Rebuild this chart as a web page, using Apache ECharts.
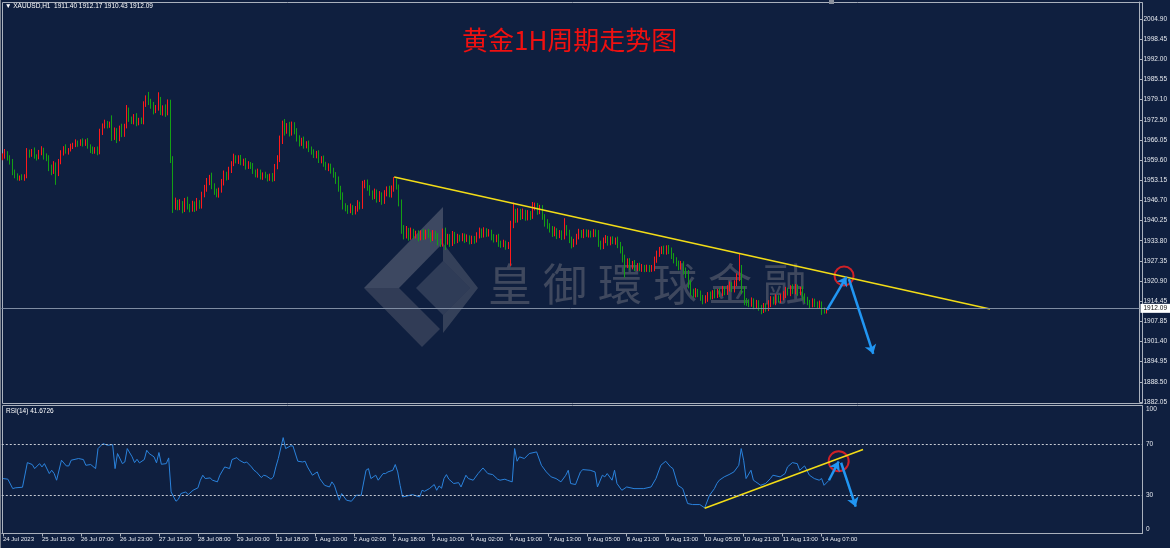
<!DOCTYPE html>
<html>
<head>
<meta charset="utf-8">
<title>黄金1H周期走势图</title>
<script src="https://cdn.jsdelivr.net/npm/echarts@6/dist/echarts.min.js"></script>
<style>
  html, body { margin: 0; padding: 0; background: #0f1f3f; }
  #chart { width: 1170px; height: 548px; }
</style>
</head>
<body>
<div id="chart"></div>
<script>
// 时间轴标签（每16根K线一个）
const TIME_LABELS = ['24 Jul 2023', '25 Jul 15:00', '26 Jul 07:00', '26 Jul 23:00', '27 Jul 15:00', '28 Jul 08:00',
  '29 Jul 00:00', '31 Jul 18:00', '1 Aug 10:00', '2 Aug 02:00', '2 Aug 18:00', '3 Aug 10:00', '4 Aug 02:00',
  '4 Aug 19:00', '7 Aug 13:00', '8 Aug 05:00', '8 Aug 21:00', '9 Aug 13:00', '10 Aug 05:00', '10 Aug 21:00',
  '11 Aug 13:00', '14 Aug 07:00'];
// 价格轴标签（自下而上）
const PRICE_LABELS = ['1882.05', '1888.50', '1894.95', '1901.40', '1907.85', '1914.45', '1920.90', '1927.35',
  '1933.80', '1940.25', '1946.70', '1953.15', '1959.60', '1966.05', '1972.50', '1979.10', '1985.55', '1992.00',
  '1998.45', '2004.90'];
const RSI_LABELS = { 0: '0', 30: '30', 70: '70', 100: '100' };

// XAUUSD H1 收盘价
const FIRST_OPEN = 1960.2;
const CLOSE = [
  1961.0, 1962.0, 1960.5, 1959.0, 1956.0, 1954.5, 1954.0, 1954.3, 1953.8, 1954.5, 1962.0, 1961.5, 1962.5, 1961.0, 1960.5, 1962.0, 1963.0, 1961.0, 1960.2, 1957.5,
  1956.0, 1958.0, 1955.5, 1959.0, 1962.0, 1963.5, 1962.5, 1963.0, 1964.0, 1964.5, 1965.3, 1964.8, 1965.5, 1965.0, 1965.8, 1964.0, 1963.0, 1962.5, 1963.2, 1962.4,
  1968.5, 1970.5, 1971.6, 1970.8, 1971.2, 1967.0, 1969.0, 1966.5, 1970.0, 1968.0, 1970.5, 1975.5, 1973.0, 1972.0, 1973.5, 1971.5, 1972.5, 1972.0, 1977.5, 1979.0,
  1978.3, 1977.0, 1975.5, 1976.5, 1978.8, 1975.0, 1976.5, 1974.8, 1978.2, 1959.7, 1945.0, 1946.0, 1944.5, 1945.8, 1943.8, 1946.5, 1944.8, 1944.0, 1945.5, 1944.2,
  1946.0, 1945.0, 1948.5, 1950.5, 1952.5, 1954.0, 1951.5, 1949.5, 1948.5, 1950.0, 1952.5, 1955.0, 1954.0, 1956.5, 1958.5, 1960.5, 1959.5, 1960.3, 1958.8, 1959.5,
  1957.5, 1958.3, 1957.8, 1956.0, 1955.0, 1955.8, 1954.2, 1955.0, 1954.5, 1953.8, 1954.5, 1953.6, 1957.5, 1960.0, 1966.0, 1971.0, 1969.0, 1970.5, 1968.5, 1970.8,
  1969.0, 1966.5, 1965.0, 1966.0, 1964.3, 1965.0, 1963.0, 1962.5, 1961.2, 1961.8, 1959.5, 1960.2, 1958.5, 1957.2, 1957.8, 1956.2, 1955.0, 1953.2, 1950.5, 1948.2,
  1945.0, 1944.2, 1943.5, 1944.5, 1943.0, 1944.0, 1945.5, 1944.8, 1951.5, 1952.3, 1950.8, 1949.0, 1948.0, 1949.5, 1947.0, 1948.5, 1946.5, 1949.0, 1950.3, 1948.5,
  1950.5, 1952.5, 1951.0, 1946.0, 1937.5, 1935.5, 1937.0, 1935.0, 1936.8, 1935.5, 1936.0, 1934.8, 1936.2, 1935.0, 1936.5, 1935.8, 1934.6, 1936.0, 1935.2, 1933.5,
  1932.8, 1936.5, 1933.5, 1935.0, 1933.0, 1935.8, 1933.8, 1935.0, 1934.5, 1935.3, 1934.2, 1934.8, 1933.6, 1934.5, 1934.0, 1935.5, 1936.8, 1935.6, 1937.0, 1936.0,
  1936.5, 1935.0, 1934.2, 1935.0, 1933.0, 1932.5, 1933.2, 1932.0, 1932.6, 1939.0, 1942.5, 1940.5, 1943.0, 1941.5, 1942.8, 1941.2, 1942.5, 1941.6, 1944.5, 1945.0,
  1943.2, 1944.2, 1941.5, 1939.5, 1938.5, 1937.5, 1936.0, 1937.0, 1935.5, 1936.2, 1935.0, 1937.8, 1936.5, 1934.0, 1932.6, 1933.5, 1935.0, 1936.4, 1935.6, 1936.5,
  1935.8, 1936.2, 1935.7, 1936.5, 1936.0, 1933.0, 1932.0, 1933.8, 1934.5, 1933.2, 1934.2, 1933.5, 1934.0, 1932.5, 1931.0, 1928.0, 1926.0, 1927.2, 1925.5, 1926.5,
  1925.0, 1925.8, 1924.8, 1925.3, 1924.6, 1925.2, 1924.7, 1925.0, 1927.5, 1929.5, 1930.5, 1931.0, 1930.2, 1931.4, 1930.5, 1929.0, 1927.5, 1926.5, 1925.5, 1926.2,
  1924.0, 1923.0, 1920.0, 1917.5, 1916.5, 1917.5, 1916.8, 1915.5, 1914.6, 1915.2, 1916.5, 1915.8, 1917.0, 1916.3, 1917.5, 1916.8, 1918.2, 1917.3, 1918.5, 1919.5,
  1918.2, 1920.0, 1922.0, 1924.5, 1918.0, 1914.5, 1914.0, 1913.5, 1914.5, 1913.0, 1913.8, 1912.4, 1911.5, 1912.8, 1912.0, 1913.5, 1915.0, 1914.2, 1915.5, 1914.8,
  1915.6, 1916.5, 1917.8, 1917.0, 1918.5, 1917.6, 1918.8, 1917.2, 1918.0, 1916.0, 1914.8, 1914.0, 1913.2, 1914.3, 1913.5, 1913.0, 1913.6, 1911.5, 1911.4, 1912.09
];
// 上影线长度
const WICK_UP = [
  0.8, 1.2, 0.5, 0.7, 1.0, 0.6, 0.9, 0.4, 0.8, 0.6, 1.5, 1.0, 0.7, 1.2, 0.5, 0.9, 1.1, 0.6, 0.8, 1.0,
  0.7, 1.3, 0.9, 1.0, 0.8, 0.6, 1.2, 0.5, 0.9, 0.7, 1.0, 0.6, 0.8, 1.1, 0.5, 0.9, 0.7, 1.0, 0.6, 0.8,
  1.2, 0.9, 1.0, 0.6, 0.8, 2.8, 1.1, 0.9, 0.7, 1.3, 0.8, 1.8, 1.0, 0.6, 0.9, 1.2, 0.7, 0.8, 1.0, 1.4,
  2.5, 1.0, 1.3, 0.8, 2.6, 1.1, 0.7, 1.0, 0.9, 0.8, 1.2, 1.6, 0.9, 1.3, 0.7, 1.0, 1.4, 0.8, 1.1, 0.9,
  1.5, 0.8, 1.0, 1.2, 1.4, 0.9, 1.6, 0.7, 1.0, 0.8, 1.1, 1.3, 0.9, 1.0, 0.8, 1.2, 0.7, 0.9, 1.0, 0.6,
  0.8, 1.0, 0.7, 0.9, 0.6, 1.1, 0.8, 0.7, 0.9, 0.6, 0.8, 1.0, 0.9, 1.2, 1.5, 1.3, 1.8, 1.0, 1.4, 1.2,
  1.0, 0.9, 1.1, 0.8, 1.2, 0.7, 0.9, 1.0, 0.6, 0.8, 1.0, 0.7, 0.9, 0.6, 0.8, 0.7, 1.0, 0.8, 1.2, 0.9,
  1.1, 0.8, 1.0, 1.2, 0.7, 0.9, 1.3, 0.8, 1.5, 1.0, 1.1, 0.8, 0.9, 1.0, 0.7, 1.2, 0.8, 1.0, 0.9, 1.1,
  1.0, 1.7, 1.2, 0.8, 1.0, 1.3, 1.5, 0.9, 1.2, 0.8, 1.0, 1.1, 0.9, 1.3, 0.8, 1.0, 0.7, 1.2, 0.9, 1.0,
  0.8, 1.2, 1.5, 1.0, 0.9, 1.1, 0.8, 1.0, 0.7, 0.9, 0.8, 1.0, 0.7, 0.9, 0.8, 1.0, 1.2, 0.9, 1.1, 0.8,
  1.0, 0.8, 0.9, 0.7, 1.0, 0.8, 0.9, 0.6, 0.8, 1.2, 3.5, 1.5, 1.2, 1.0, 1.3, 0.9, 1.1, 0.8, 1.7, 1.0,
  0.9, 1.1, 1.0, 0.8, 1.2, 0.9, 1.0, 1.3, 0.8, 1.0, 0.9, 3.2, 1.0, 0.8, 1.1, 0.9, 1.0, 1.2, 0.8, 1.0,
  0.9, 1.1, 0.8, 1.0, 0.9, 1.2, 0.8, 1.0, 1.1, 0.8, 0.9, 1.0, 0.8, 1.1, 0.9, 1.0, 1.3, 0.9, 1.0, 0.8,
  1.1, 0.8, 0.9, 1.0, 0.7, 0.9, 0.8, 1.0, 1.2, 1.1, 1.3, 1.0, 1.2, 0.9, 1.0, 1.1, 0.8, 1.0, 0.9, 1.1,
  1.0, 1.2, 1.4, 1.0, 0.9, 1.1, 0.8, 1.0, 0.9, 1.1, 0.8, 1.0, 0.9, 1.2, 0.8, 1.0, 1.1, 0.9, 1.0, 1.2,
  1.0, 1.1, 1.3, 5.3, 1.5, 1.2, 0.9, 1.0, 1.1, 0.8, 1.0, 0.9, 0.8, 1.0, 0.9, 1.2, 1.0, 0.9, 1.1, 0.8,
  1.0, 1.1, 1.2, 0.9, 1.0, 1.3, 1.1, 0.9, 1.0, 1.2, 0.9, 1.0, 0.8, 1.0, 0.9, 0.8, 1.0, 0.7, 0.9, 0.08
];
// 下影线长度
const WICK_DN = [
  0.6, 0.9, 1.0, 0.8, 1.2, 0.7, 0.9, 1.0, 0.6, 0.8, 0.7, 1.1, 0.8, 0.9, 1.0, 0.6, 0.8, 1.2, 0.9, 1.4,
  1.2, 0.8, 3.8, 1.0, 0.7, 0.9, 0.8, 1.1, 0.6, 0.8, 0.7, 0.9, 0.6, 1.0, 0.8, 0.7, 1.1, 0.9, 0.8, 1.2,
  0.9, 0.8, 0.7, 1.0, 0.8, 1.2, 0.9, 1.4, 0.8, 1.0, 0.9, 0.7, 1.1, 0.8, 0.9, 1.0, 0.7, 0.8, 0.9, 0.8,
  1.0, 0.9, 1.2, 0.8, 1.0, 0.9, 1.1, 1.3, 0.8, 1.0, 2.3, 1.3, 1.0, 0.9, 1.2, 0.8, 1.0, 1.1, 0.9, 1.2,
  0.8, 1.0, 0.9, 0.8, 1.0, 0.9, 1.2, 1.0, 0.8, 0.9, 0.8, 1.0, 0.9, 0.7, 1.0, 0.8, 0.9, 1.1, 0.8, 1.0,
  0.9, 0.7, 1.0, 0.8, 0.9, 1.0, 0.8, 0.9, 0.7, 1.0, 0.8, 0.9, 0.7, 0.8, 1.0, 1.2, 1.5, 0.9, 1.3, 1.0,
  1.1, 0.9, 1.0, 0.8, 1.0, 0.9, 0.8, 1.1, 0.9, 1.0, 0.8, 0.9, 1.0, 0.8, 1.1, 0.9, 1.0, 1.2, 1.0, 1.3,
  1.2, 1.0, 1.1, 0.9, 1.0, 0.8, 0.9, 1.0, 0.8, 0.9, 1.0, 0.8, 1.1, 0.9, 1.0, 0.8, 1.2, 0.9, 1.0, 0.8,
  0.9, 1.0, 0.8, 1.2, 1.5, 1.3, 1.0, 1.2, 0.9, 1.1, 1.0, 1.2, 0.9, 1.0, 0.8, 1.1, 1.3, 0.9, 1.0, 1.2,
  1.0, 0.9, 2.7, 1.0, 1.2, 0.9, 1.1, 0.8, 1.0, 0.9, 1.1, 0.8, 1.0, 0.9, 1.2, 0.8, 1.0, 0.9, 0.8, 1.0,
  0.9, 1.1, 1.0, 0.9, 1.2, 1.0, 0.8, 1.1, 0.9, 6.9, 1.2, 1.0, 0.9, 1.1, 0.8, 1.0, 0.9, 1.2, 0.8, 1.0,
  1.1, 0.9, 1.0, 1.2, 0.9, 1.1, 1.0, 0.8, 1.2, 0.9, 1.0, 0.8, 1.1, 1.0, 1.3, 0.9, 1.0, 0.8, 0.9, 1.0,
  0.8, 1.0, 0.9, 0.8, 1.0, 1.2, 1.1, 0.9, 0.8, 1.0, 0.9, 0.8, 1.0, 1.1, 1.3, 1.2, 4.0, 1.0, 1.1, 0.9,
  1.0, 0.9, 0.8, 1.0, 0.9, 0.8, 1.0, 0.9, 1.0, 0.8, 0.9, 1.0, 0.8, 0.9, 1.0, 1.1, 1.0, 0.9, 1.2, 1.0,
  1.1, 1.2, 1.5, 1.3, 1.0, 0.9, 1.1, 1.0, 1.2, 0.9, 1.0, 0.9, 0.8, 1.0, 0.9, 1.1, 0.8, 1.0, 0.9, 1.0,
  0.9, 1.0, 0.8, 1.2, 1.3, 1.4, 1.1, 1.0, 0.9, 1.2, 1.0, 1.1, 1.3, 0.9, 1.0, 0.8, 1.0, 0.9, 1.1, 0.9,
  1.0, 0.9, 1.1, 0.8, 1.0, 0.9, 1.0, 1.1, 0.9, 1.2, 1.0, 0.9, 1.1, 0.8, 1.0, 1.1, 0.9, 1.5, 1.0, 0.97
];

// RSI(14) 读数 [K线序号, 值]
const RSI_PTS = [
  [0, 43.1], [2, 42.6], [4, 35.2], [5, 35.8], [8, 36.3], [10, 55.6], [12, 54.1], [13, 50.9], [15, 54.8], [16, 52.2],
  [17, 54.8], [19, 47], [20, 49.6], [21, 47], [22, 41.8], [24, 57.5], [26, 53], [27, 53], [28, 57.5], [31, 58.8],
  [33, 58], [34, 53.5], [36, 54.1], [38, 50.9], [39, 66.6], [41, 70.5], [43, 69.2], [45, 69.7], [46, 50.9], [47, 62.7],
  [49, 54.8], [50, 56.1], [51, 66.6], [53, 60.1], [54, 55.6], [55, 58.2], [56, 55.4], [58, 58], [59, 65.3], [60, 62.7],
  [62, 60.1], [63, 55.4], [64, 63.5], [65, 54.3], [67, 54.8], [68, 59.3], [69, 32.6], [71, 25.3], [72, 26.9], [73, 31.3],
  [75, 32.6], [76, 30.5], [78, 33.9], [80, 35.8], [81, 41.8], [82, 45.7], [83, 43.1], [85, 43.6], [86, 41.8], [88, 40.5],
  [89, 45.7], [91, 52.2], [93, 50.9], [94, 58], [96, 59.5], [97, 57.5], [99, 55.4], [100, 56.1], [102, 52.2], [103, 49.6],
  [104, 48.3], [106, 43.9], [107, 45.7], [108, 45.2], [110, 42.6], [111, 44.4], [112, 52.2], [113, 58.8], [115, 75.2], [116, 66.6],
  [118, 68.7], [119, 68.7], [121, 56.7], [123, 56.1], [124, 56.7], [125, 52.2], [127, 45.7], [129, 48.3], [130, 43.1], [132, 37.8],
  [134, 36.5], [135, 40.5], [136, 37.8], [138, 26.1], [139, 31.3], [141, 26.1], [143, 25.3], [145, 30], [147, 30], [149, 49.6],
  [150, 50.9], [151, 43.1], [153, 45.7], [154, 41.8], [156, 47], [157, 47], [158, 48.3], [160, 49.6], [161, 54.1], [162, 48.3],
  [163, 37.8], [164, 28.7], [166, 29.5], [168, 30.5], [171, 28.7], [172, 33.9], [173, 33.1], [175, 35.2], [177, 38.4], [178, 33.9],
  [179, 37.3], [180, 35.5], [181, 43.1], [182, 46.2], [183, 42.6], [185, 39.2], [187, 39.9], [188, 36.5], [190, 45.7], [191, 43.1],
  [193, 41.8], [195, 47], [197, 51.4], [199, 47], [201, 46.2], [203, 42.6], [204, 41.8], [206, 42.6], [207, 41.8], [209, 40.5],
  [210, 66.6], [211, 56.7], [212, 60.1], [214, 58.8], [216, 62.7], [219, 64], [221, 53.5], [223, 48.3], [225, 44.4], [227, 43.1],
  [229, 40.5], [231, 45.7], [232, 49.6], [233, 39.2], [235, 38.4], [237, 48.3], [238, 50.1], [241, 49.6], [243, 48.3], [244, 36.5],
  [246, 45.7], [247, 44.4], [248, 47], [250, 41.8], [251, 49.6], [252, 39.2], [254, 33.9], [256, 36.5], [259, 35.2], [263, 35.2],
  [266, 36.5], [268, 43.1], [270, 53.5], [272, 56.7], [274, 52.2], [275, 50.9], [277, 37.8], [279, 35.2], [281, 23.5], [283, 22.7],
  [286, 22.7], [288, 20.1], [290, 30], [292, 35.2], [293, 39.2], [294, 41.8], [296, 44.4], [298, 46.2], [300, 48.3], [302, 53.5],
  [303, 66.6], [304, 57.5], [305, 43.1], [307, 49.6], [308, 41.8], [309, 40.5], [311, 37.8], [313, 39.2], [315, 43.1], [316, 45.7],
  [319, 44.4], [321, 47], [322, 52.2], [324, 55.6], [326, 54.8], [327, 49.6], [329, 53], [331, 45.7], [333, 43.1], [335, 41.8],
  [336, 43.1], [337, 37.8], [339, 41.67]
];

// 画线标注
const PRICE_TREND = [[161, 1954.2], [406, 1911.9]];
const PRICE_ARROWS = [[[339, 1911.6], [347, 1922.2]], [[348, 1921.5], [358, 1897.5]]];
const PRICE_CIRCLE = [346, 1922.5];
const RSI_TREND = [[288, 19.8], [353, 65.8]];
const RSI_ARROWS = [[[339, 41.8], [343, 56.5]], [[344, 55.5], [350, 21]]];
const RSI_CIRCLE = [343, 56.7];
const LAST_PRICE = 1912.09;

const BAR_SLOTS = 468;
const cats = [];
for (let i = 0; i < BAR_SLOTS; i++) cats.push(String(i));

const candles = CLOSE.map((c, i) => {
  const o = i === 0 ? FIRST_OPEN : CLOSE[i - 1];
  return [o, c, Math.min(o, c) - WICK_DN[i], Math.max(o, c) + WICK_UP[i]];
});

const SMALL_FONT = "'Liberation Sans','DejaVu Sans',sans-serif";
const AXIS_COLOR = '#aab1bd';
const RED = '#ff1a1a';
const GREEN = '#14a014';
const BLUE = '#2196f3';
const YELLOW = '#f2dc17';

const tickEvery16 = (idx) => idx % 16 === 0 && idx / 16 < TIME_LABELS.length;

function arrowLines(list) {
  return list.map(a => [{ coord: a[0] }, { coord: a[1] }]);
}

// 水印
const WM_CHARS = ['皇', '御', '環', '球', '金', '融'];
const wmText = WM_CHARS.map((ch, k) => ({
  type: 'text',
  x: 488 + k * 55, y: 262, z: 0,
  style: { text: ch, fill: 'rgba(150,148,150,0.36)', font: "44px 'Noto Sans CJK TC'" }
}));

const chart = echarts.init(document.getElementById('chart'));
chart.setOption({
  animation: false,
  backgroundColor: '#0f1f3f',
  title: [
    { text: '▼ XAUUSD,H1  1911.40 1912.17 1910.43 1912.09', left: 5, top: 3, padding: 0,
      textStyle: { color: '#ffffff', fontSize: 6.5, fontWeight: 'normal', fontFamily: SMALL_FONT } },
    { text: '黄金1H周期走势图', left: 462, top: 27, padding: 0,
      textStyle: { color: '#f01010', fontSize: 26, fontWeight: 'normal', fontFamily: "'Noto Sans CJK SC'" } },
    { text: 'RSI(14) 41.6726', left: 6, top: 408, padding: 0,
      textStyle: { color: '#ffffff', fontSize: 6.5, fontWeight: 'normal', fontFamily: SMALL_FONT } }
  ],
  graphic: [
    { type: 'rect', z: 0, shape: { x: 2.5, y: 2.5, width: 1140, height: 401 }, style: { fill: null, stroke: AXIS_COLOR, lineWidth: 1 } },
    { type: 'rect', z: 0, shape: { x: 2.5, y: 405.5, width: 1140, height: 128 }, style: { fill: null, stroke: AXIS_COLOR, lineWidth: 1 } },
    { type: 'line', z: 0, shape: { x1: 0.5, y1: 0, x2: 0.5, y2: 548 }, style: { stroke: '#7d8491', lineWidth: 1 } },
    { type: 'rect', z: 0, shape: { x: 829, y: 0, width: 5, height: 4 }, style: { fill: '#8a909c' } },
    // logo
    { type: 'polygon', z: 0, shape: { points: [[443, 207], [443, 243], [399, 288], [364, 288]] }, style: { fill: 'rgba(170,170,175,0.30)' } },
    { type: 'polygon', z: 0, shape: { points: [[364, 288], [399, 288], [440, 329], [422, 347]] }, style: { fill: 'rgba(130,130,140,0.30)' } },
    { type: 'polygon', z: 0, shape: { points: [[443, 261], [470, 288], [443, 315], [416, 288]] }, style: { fill: 'rgba(95,105,125,0.40)' } },
    { type: 'polygon', z: 0, shape: { points: [[443, 243], [478, 288], [443, 333], [443, 315], [470, 288], [443, 261]] }, style: { fill: 'rgba(150,150,158,0.28)' } }
  ].concat(wmText),
  grid: [
    { left: 1.5, top: 2, width: 1140.5, height: 400 },
    { left: 1.5, top: 406, width: 1140.5, height: 127.5 }
  ],
  xAxis: [
    { type: 'category', gridIndex: 0, data: cats, boundaryGap: true,
      axisLine: { show: false }, axisTick: { show: false }, axisLabel: { show: false }, splitLine: { show: false } },
    { type: 'category', gridIndex: 1, data: cats, boundaryGap: true,
      axisLine: { show: true, lineStyle: { color: AXIS_COLOR } },
      axisTick: { show: true, interval: tickEvery16, alignWithLabel: true, length: 3, lineStyle: { color: AXIS_COLOR } },
      axisLabel: { show: true, interval: tickEvery16, hideOverlap: false, align: 'left', margin: 3, color: '#e6e9ef', fontSize: 6,
        fontFamily: SMALL_FONT, formatter: (v) => TIME_LABELS[Number(v) / 16] || '' },
      splitLine: { show: false } }
  ],
  yAxis: [
    { type: 'value', gridIndex: 0, position: 'right', min: 1882.05, max: 2010.35, interval: 6.46579,
      axisLine: { show: true, lineStyle: { color: AXIS_COLOR } },
      axisTick: { show: true, length: 3, lineStyle: { color: AXIS_COLOR } },
      axisLabel: { margin: 4, color: '#e6e9ef', fontSize: 6.5, fontFamily: SMALL_FONT,
        formatter: (v) => PRICE_LABELS[Math.round((v - 1882.05) / 6.46579)] || '' },
      splitLine: { show: false } },
    { type: 'value', gridIndex: 1, position: 'right', min: 0, max: 100, interval: 10,
      axisLine: { show: true, lineStyle: { color: AXIS_COLOR } },
      axisTick: { show: false },
      axisLabel: { margin: 4, color: '#e6e9ef', fontSize: 6.5, fontFamily: SMALL_FONT,
        formatter: (v) => {
          const t = RSI_LABELS[Math.round(v)];
          if (!t) return '';
          if (v === 100) return '{top|' + t + '}';
          if (v === 0) return '{bot|' + t + '}';
          return t;
        },
        rich: { top: { padding: [7, 0, 0, 0], fontSize: 6.5, color: '#e6e9ef' },
                bot: { padding: [0, 0, 8, 0], fontSize: 6.5, color: '#e6e9ef' } } },
      splitLine: { show: false } }
  ],
  series: [
    {
      type: 'candlestick', xAxisIndex: 0, yAxisIndex: 0, data: candles, barWidth: 1.2,
      itemStyle: { color: RED, color0: GREEN, borderColor: RED, borderColor0: GREEN, borderWidth: 1 },
      markLine: {
        silent: true, symbol: 'none',
        lineStyle: { color: '#7f8ca2', type: 'solid', width: 1 },
        label: { show: true, position: 'end', distance: 1, formatter: LAST_PRICE.toFixed(2), backgroundColor: '#ffffff',
          color: '#101010', fontSize: 6.5, fontFamily: SMALL_FONT, padding: [1, 3] },
        data: [{ yAxis: LAST_PRICE }]
      }
    },
    {
      type: 'line', xAxisIndex: 0, yAxisIndex: 0, data: PRICE_TREND, showSymbol: false, silent: true,
      lineStyle: { color: YELLOW, width: 1.6 },
      markLine: {
        silent: true, symbol: ['none', 'arrow'], symbolSize: 9,
        lineStyle: { color: BLUE, width: 2.5, type: 'solid' }, label: { show: false },
        data: arrowLines(PRICE_ARROWS)
      }
    },
    {
      type: 'scatter', xAxisIndex: 0, yAxisIndex: 0, data: [PRICE_CIRCLE], symbol: 'circle', symbolSize: 19, silent: true,
      itemStyle: { color: 'rgba(0,0,0,0)', borderColor: '#ff2222', borderWidth: 2 }
    },
    {
      type: 'line', xAxisIndex: 1, yAxisIndex: 1, data: RSI_PTS, showSymbol: false, silent: true,
      lineStyle: { color: '#2a82dc', width: 1 },
      markLine: {
        silent: true, symbol: 'none', label: { show: false },
        lineStyle: { color: '#c8ccd4', type: [2, 2], width: 1 },
        data: [{ yAxis: 70 }, { yAxis: 30 }]
      }
    },
    {
      type: 'line', xAxisIndex: 1, yAxisIndex: 1, data: RSI_TREND, showSymbol: false, silent: true,
      lineStyle: { color: YELLOW, width: 1.6 },
      markLine: {
        silent: true, symbol: ['none', 'arrow'], symbolSize: 9,
        lineStyle: { color: BLUE, width: 2.5, type: 'solid' }, label: { show: false },
        data: arrowLines(RSI_ARROWS)
      }
    },
    {
      type: 'scatter', xAxisIndex: 1, yAxisIndex: 1, data: [RSI_CIRCLE], symbol: 'circle', symbolSize: 20, silent: true,
      itemStyle: { color: 'rgba(0,0,0,0)', borderColor: '#ff2222', borderWidth: 2 }
    }
  ]
});
</script>
</body>
</html>
